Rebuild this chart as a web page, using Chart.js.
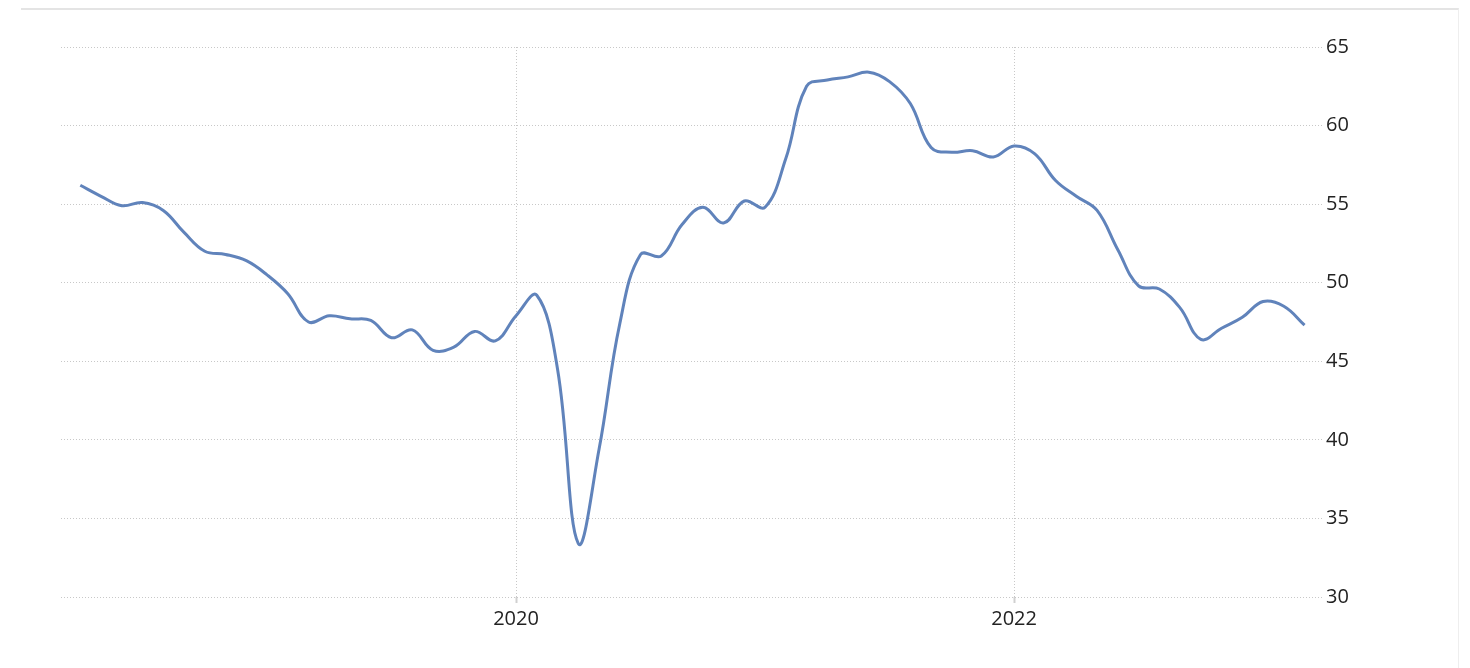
<!DOCTYPE html>
<html>
<head>
<meta charset="utf-8">
<script src="https://cdn.jsdelivr.net/npm/chart.js@4"></script>
<style>
  body { margin: 0; background: #fff; }
  #frame {
    position: absolute; left: 21px; top: 8px; width: 1437px; height: 660px;
    border-top: 2px solid #e4e4e4; border-right: 1px solid #eeeeee;
  }
  #chart { position: absolute; left: 0; top: 0; }
</style>
</head>
<body>
<div id="frame"></div>
<canvas id="chart" width="1470" height="668"></canvas>
<script>
// monthly readings, Apr 2018 - Mar 2023
const months = [
  '2018-04','2018-05','2018-06','2018-07','2018-08','2018-09','2018-10','2018-11','2018-12',
  '2019-01','2019-02','2019-03','2019-04','2019-05','2019-06','2019-07','2019-08','2019-09','2019-10','2019-11','2019-12',
  '2020-01','2020-02','2020-03','2020-04','2020-05','2020-06','2020-07','2020-08','2020-09','2020-10','2020-11','2020-12',
  '2021-01','2021-02','2021-03','2021-04','2021-05','2021-06','2021-07','2021-08','2021-09','2021-10','2021-11','2021-12',
  '2022-01','2022-02','2022-03','2022-04','2022-05','2022-06','2022-07','2022-08','2022-09','2022-10','2022-11','2022-12',
  '2023-01','2023-02','2023-03'
];
const values = [
  56.2, 55.5, 54.9, 55.1, 54.6, 53.2, 52.0, 51.8, 51.4,
  50.5, 49.3, 47.5, 47.9, 47.7, 47.6, 46.5, 47.0, 45.7, 45.9, 46.9, 46.3,
  47.9, 49.2, 44.5, 33.4, 39.4, 47.4, 51.8, 51.7, 53.7, 54.8, 53.8, 55.2,
  54.8, 57.9, 62.5, 62.9, 63.1, 63.4, 62.8, 61.4, 58.6, 58.3, 58.4, 58.0,
  58.7, 58.2, 56.5, 55.5, 54.6, 52.1, 49.8, 49.6, 48.4, 46.4, 47.1, 47.8,
  48.8, 48.5, 47.3
];
const tickYears = [2020, 2022];
const yTicks = [30, 35, 40, 45, 50, 55, 60, 65];

// months counted from Jan 2020
function monthIndex(s) {
  const [y, m] = s.split('-').map(Number);
  return (y - 2020) * 12 + (m - 1);
}
const points = months.map((m, i) => ({ x: monthIndex(m), y: values[i] }));

const font = { family: '"Open Sans", sans-serif', size: 20 };

new Chart(document.getElementById('chart'), {
  type: 'line',
  data: {
    datasets: [{
      data: points,
      borderColor: '#6083bb',
      borderWidth: 3,
      pointRadius: 0,
      tension: 0.4,
      fill: false
    }]
  },
  options: {
    responsive: false,
    animation: false,
    layout: { padding: { left: 61, top: 47, right: 0, bottom: 0 } },
    plugins: { legend: { display: false }, tooltip: { enabled: false } },
    scales: {
      x: {
        type: 'linear',
        min: -21.93,
        max: 38.84,
        afterBuildTicks: s => { s.ticks = tickYears.map(y => ({ value: (y - 2020) * 12 })); },
        afterFit: s => { s.height = 71; },
        ticks: {
          callback: v => String(2020 + v / 12),
          color: '#222',
          font: font,
          padding: 4,
          maxRotation: 0
        },
        grid: {
          color: '#c8c8c8',
          tickLength: 6,
          tickColor: '#d0d0d0',
          tickBorderDash: [],
          tickWidth: 2
        },
        border: { display: false, dash: [1, 2] }
      },
      y: {
        position: 'right',
        min: 30,
        max: 65,
        afterBuildTicks: s => { s.ticks = yTicks.map(v => ({ value: v })); },
        afterFit: s => { s.width = 148; },
        ticks: { color: '#222', font: font, padding: 4 },
        grid: { color: '#c8c8c8', drawTicks: false },
        border: { display: false, dash: [1, 2] }
      }
    }
  }
});
</script>
</body>
</html>
